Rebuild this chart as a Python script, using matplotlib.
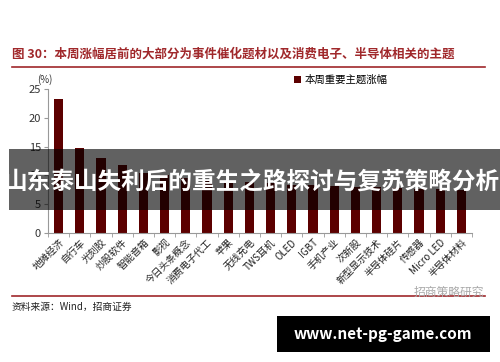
import matplotlib
matplotlib.use("Agg")
import matplotlib.pyplot as plt
from matplotlib.patches import Rectangle
from matplotlib.lines import Line2D
import numpy as np

plt.rcParams['font.family'] = ['Noto Sans CJK SC', 'DejaVu Sans']

categories = ["地摊经济", "自行车", "光刻胶", "炒股软件", "智能音箱", "影视", "今日头条概念",
              "消费电子代工", "苹果", "无线充电", "TWS耳机", "OLED", "IGBT", "手机产业",
              "次新股", "新型显示技术", "半导体硅片", "传感器", "Micro LED", "半导体材料"]
values = [23.3, 14.7, 13.0, 11.8, 10.4, 10.0, 9.6, 9.2, 9.0, 8.8, 8.6, 8.4, 8.3, 8.1,
          8.0, 7.9, 7.8, 7.7, 7.6, 7.5]
yticks = [0, 5, 10, 15, 20, 25]

title = "图 30：本周涨幅居前的大部分为事件催化题材以及消费电子、半导体相关的主题"
legend_label = "本周重要主题涨幅"
source = "资料来源：Wind，招商证券"
banner = "山东泰山失利后的重生之路探讨与复苏策略分析"
site = "www.net-pg-game.com"

W, H = 500, 362
fig = plt.figure(figsize=(5, 3.62), dpi=100)
fig.patch.set_facecolor("white")

def fx(px): return px / W
def fy(py): return 1 - py / H

ax = fig.add_axes([fx(48), fy(233), fx(472) - fx(48), fy(89) - fy(233)])
x = np.arange(len(categories))
ax.bar(x, values, width=0.43, color="#5C0000", label=legend_label, zorder=2)
ax.set_xlim(-0.5, len(categories) - 0.5)
ax.set_ylim(0, 25)
ax.set_yticks(yticks)
ax.set_yticklabels([str(t) for t in yticks], fontsize=8, color="#333333")
ax.set_xticks(x)
ax.set_xticklabels(categories, rotation=45, ha="right", rotation_mode="anchor",
                   fontsize=7, color="#222222")
ax.tick_params(axis="x", length=0, pad=3)
ax.set_xticks(np.arange(len(categories) + 1) - 0.5, minor=True)
ax.tick_params(axis="x", which="minor", length=3, color="#999999", direction="out")
ax.tick_params(axis="y", length=3, color="#999999", direction="out", pad=2)
for s in ["top", "right"]:
    ax.spines[s].set_visible(False)
for s in ["left", "bottom"]:
    ax.spines[s].set_color("#999999")
    ax.spines[s].set_linewidth(0.8)
ax.set_facecolor("none")

ax.legend(loc="upper left", bbox_to_anchor=(fx(294), fy(75)), bbox_transform=fig.transFigure,
          frameon=False, fontsize=7.5, handlelength=0.7, handleheight=0.7, handletextpad=0.3,
          borderaxespad=0, borderpad=0)

fig.text(fx(45), fy(80), "(%)", fontsize=7, color="#333333", ha="center", va="center")

# title and rules
fig.text(fx(12), fy(54), title, fontsize=9, color="#A0282B", fontweight="bold",
         ha="left", va="center")
fig.add_artist(Line2D([fx(12), fx(485)], [fy(67), fy(67)], color="#A0282B", lw=1.2))
fig.add_artist(Line2D([fx(12), fx(485)], [fy(296), fy(296)], color="#A0282B", lw=1.2))
fig.text(fx(12), fy(307), source, fontsize=7, color="#222222", ha="left", va="center")
fig.text(fx(484), fy(292), "招商策略研究", fontsize=8.5, color="#AAAAAA", ha="right", va="center")

# overlay banner
fig.add_artist(Rectangle((fx(9), fy(210)), 1 - fx(9), fy(149) - fy(210),
                         transform=fig.transFigure, facecolor="black", alpha=0.62,
                         edgecolor="none", zorder=5))
fig.text(fx(252), fy(182), banner, fontsize=17, color="white", fontweight="bold",
         ha="center", va="center", zorder=6)

# site box
fig.add_artist(Rectangle((fx(277), fy(352)), fx(490) - fx(277), fy(316) - fy(352),
                         transform=fig.transFigure, facecolor="black", edgecolor="none",
                         zorder=5))
fig.text(fx(383), fy(334), site, fontsize=11, color="white", fontweight="bold",
         ha="center", va="center", zorder=6)

fig.savefig("out.png", dpi=100)
